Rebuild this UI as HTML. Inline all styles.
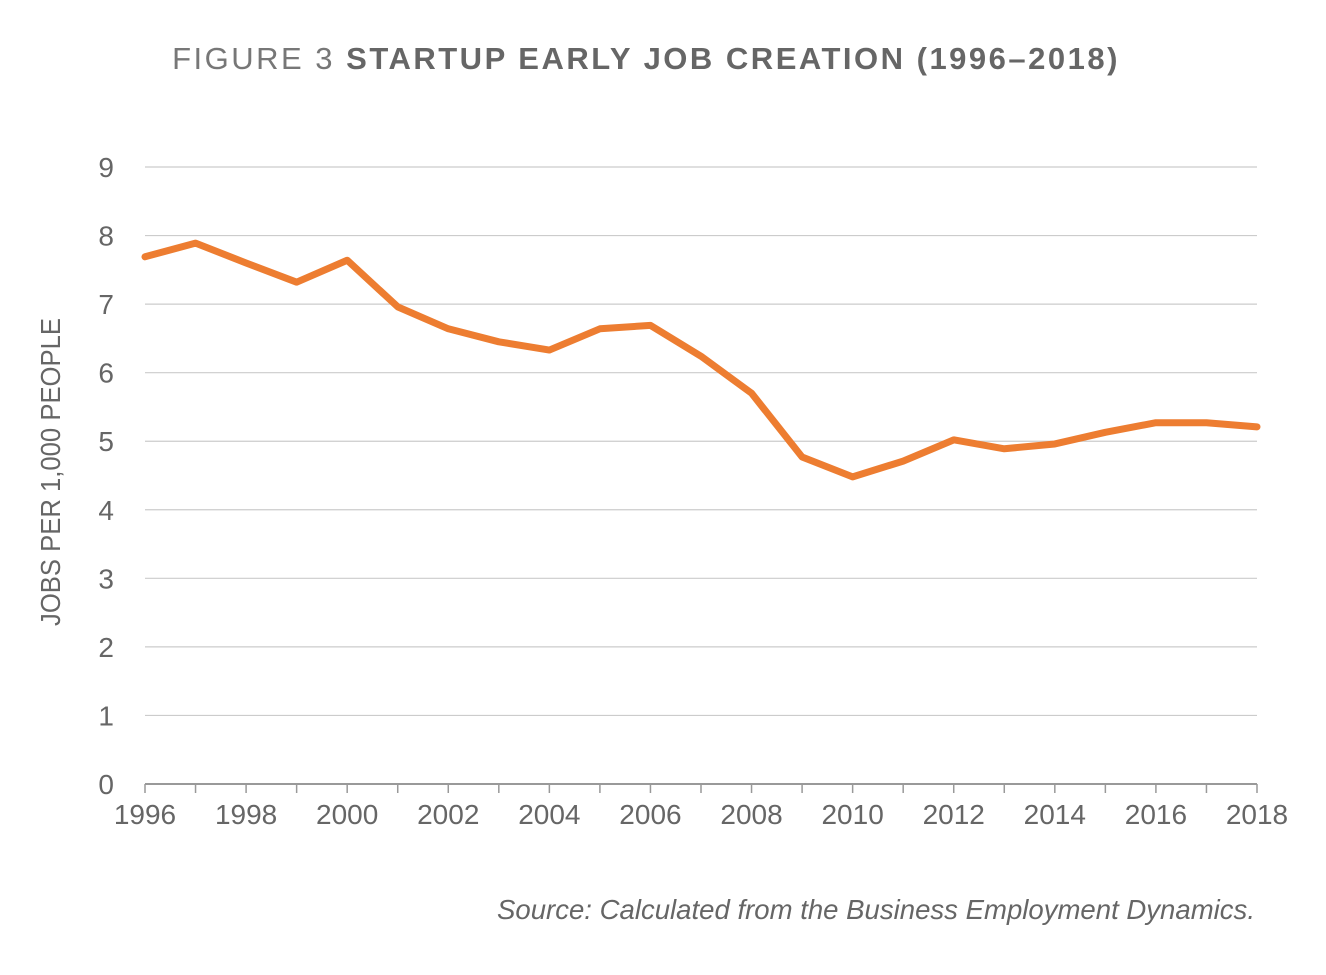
<!DOCTYPE html>
<html><head><meta charset="utf-8">
<style>
html,body{margin:0;padding:0;background:#fff;}
body{width:1326px;height:970px;overflow:hidden;font-family:"Liberation Sans Narrow","Liberation Sans",sans-serif;}
</style></head>
<body>
<svg width="1326" height="970" viewBox="0 0 1326 970">
<text x="646" y="69" text-anchor="middle" font-size="31" fill="#666" letter-spacing="2.5" font-family="Liberation Sans, sans-serif"><tspan font-weight="normal" fill="#777">FIGURE 3 </tspan><tspan font-weight="bold"> STARTUP EARLY JOB CREATION (1996–2018)</tspan></text>
<g id="grid"></g>
<g id="xaxis"></g>
<g id="yaxis"></g>
<text transform="translate(60,472) rotate(-90)" text-anchor="middle" font-size="28" fill="#666" textLength="308" lengthAdjust="spacingAndGlyphs">JOBS PER 1,000 PEOPLE</text>
<path id="line" fill="none" stroke="#ED7D31" stroke-width="7" stroke-linejoin="round" stroke-linecap="round"/>
<text x="497" y="919" font-size="28" font-style="italic" fill="#666" textLength="758" lengthAdjust="spacingAndGlyphs">Source: Calculated from the Business Employment Dynamics.</text>
</svg>
<script>
const years = [1996,1997,1998,1999,2000,2001,2002,2003,2004,2005,2006,2007,2008,2009,2010,2011,2012,2013,2014,2015,2016,2017,2018];
const values = [7.69,7.89,7.6,7.32,7.64,6.96,6.64,6.45,6.33,6.64,6.69,6.24,5.70,4.77,4.48,4.71,5.02,4.89,4.96,5.13,5.27,5.27,5.21];
const yTicks = [0,1,2,3,4,5,6,7,8,9];
const xLabels = [1996,1998,2000,2002,2004,2006,2008,2010,2012,2014,2016,2018];
const NS='http://www.w3.org/2000/svg';
const x = v => 145 + (v-1996)*(1257-145)/22;
const y = v => 784 - v*(784-167)/9;
const grid=document.getElementById('grid'), xa=document.getElementById('xaxis'), ya=document.getElementById('yaxis');
function mk(tag,attrs,parent){const e=document.createElementNS(NS,tag);for(const k in attrs)e.setAttribute(k,attrs[k]);parent.appendChild(e);return e;}
yTicks.forEach(t=>{
  const l=mk('line',{x1:145,x2:1257,y1:y(t),y2:y(t),stroke:t===0?'#999':'#ccc','stroke-width':t===0?2:1.2},grid);
  
  
  const tx=mk('text',{x:114,y:y(t)+10,'text-anchor':'end','font-size':28,fill:'#666'},ya);
  tx.textContent=t;
  
  
});
years.forEach(yr=>{
  const tk=mk('line',{x1:x(yr),x2:x(yr),y1:784,y2:793,stroke:'#999','stroke-width':1.5},xa);
  
  
});
xLabels.forEach(yr=>{
  const tx=mk('text',{x:x(yr),y:824,'text-anchor':'middle','font-size':28,fill:'#666'},xa);
  tx.textContent=yr;
  
  
});
document.getElementById('line').setAttribute('d',years.map((yr,i)=>(i?'L':'M')+x(yr)+','+y(values[i])).join(' '));
</script>
</body></html>
